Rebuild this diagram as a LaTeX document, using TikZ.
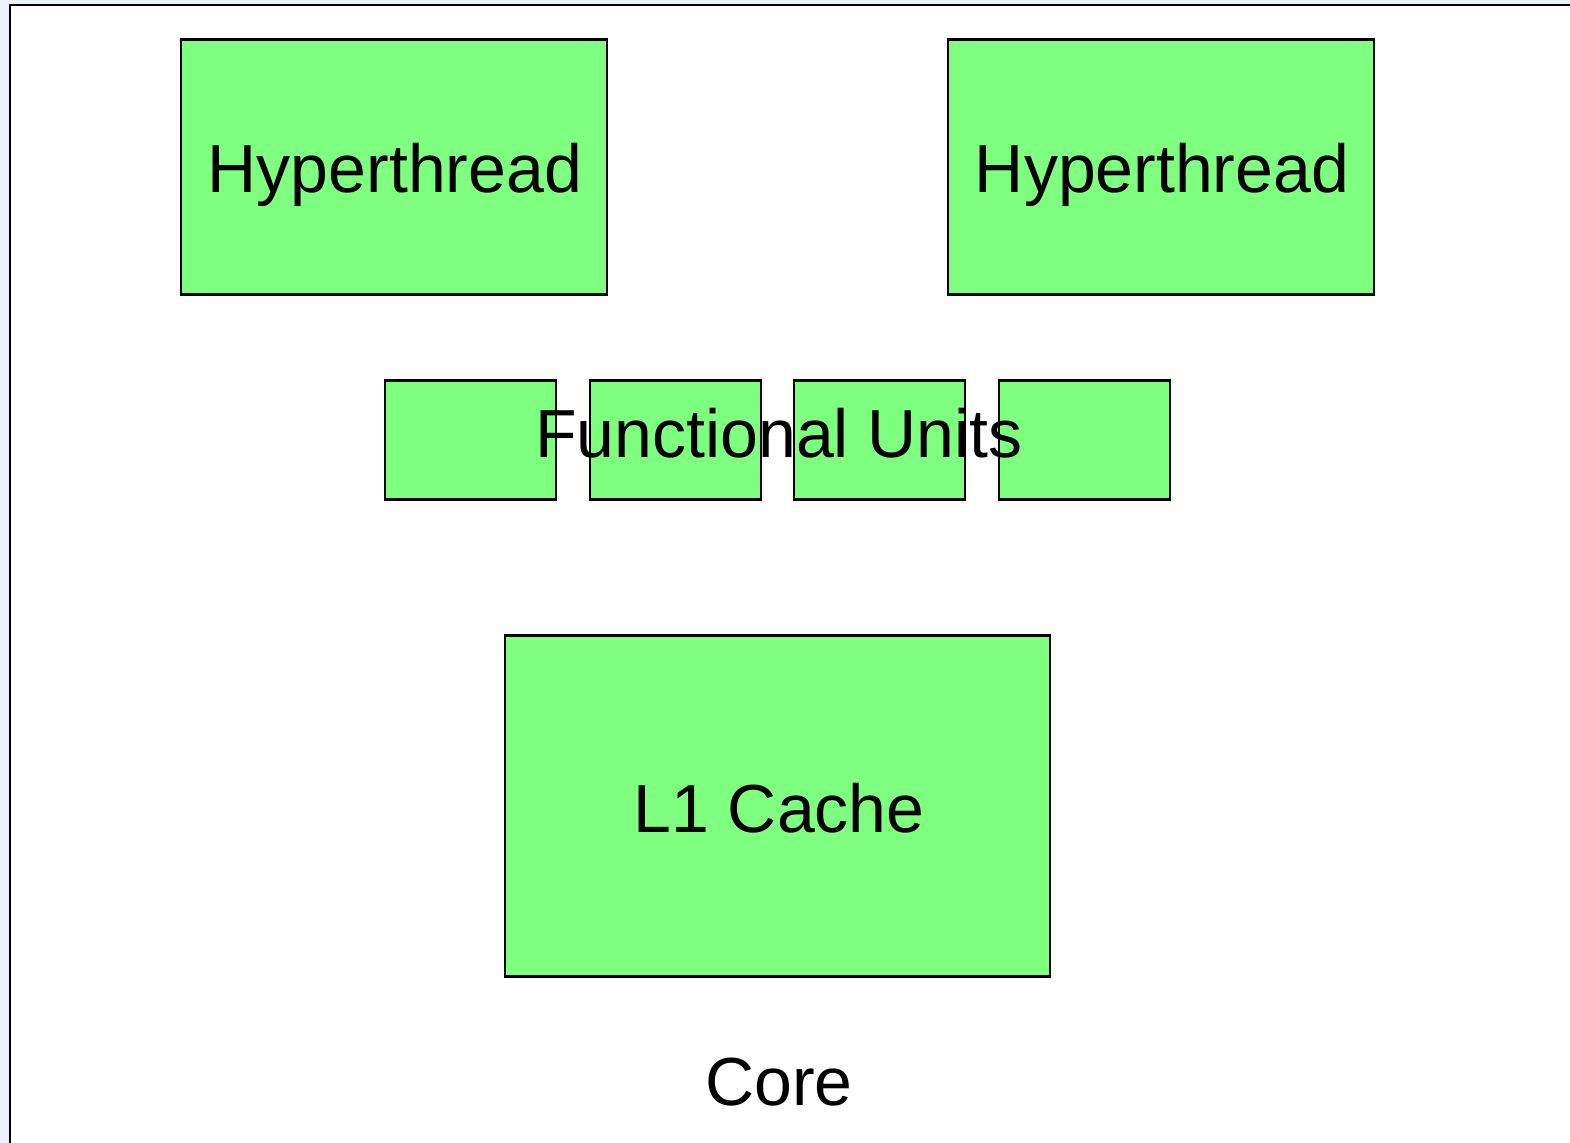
\documentclass[tikz,border=0pt]{standalone}
\usepackage{fontspec}
\setmainfont{Liberation Sans}
\definecolor{unitgreen}{HTML}{7FFF7F}
\definecolor{pageblue}{HTML}{ECF1FB}
\begin{document}
\begin{tikzpicture}[x=0.5pt,y=-0.5pt,
  block/.style={draw=black,line width=1.2pt,fill=unitgreen,inner sep=0pt},
  caption/.style={font=\fontsize{34pt}{40pt}\selectfont,anchor=base,inner sep=0pt}]
  % page background and core outline
  \fill[pageblue] (0,0) rectangle (1570,1143);
  \fill[white] (10,5) rectangle (1570,1143);
  \useasboundingbox (0,0) rectangle (1570,1143);
  \draw[line width=1.3pt] (10,1150) -- (10,5) -- (1580,5);
  % hyperthreads
  \node[block,minimum width=213pt,minimum height=127.5pt] (ht1) at (394,167) {};
  \node[block,minimum width=213pt,minimum height=127.5pt] (ht2) at (1161,167) {};
  \node[caption] (ht1t) at (395,193) {Hyperthread};
  \node[caption] (ht2t) at (1162,193) {Hyperthread};
  % functional units
  \foreach \cx/\nm in {470.5/fu1,675.5/fu2,879.5/fu3,1084.5/fu4}
    \node[block,minimum width=85.5pt,minimum height=59.5pt] (\nm) at (\cx,440) {};
  \node[caption] (fut) at (779,458) {Functional Units};
  % L1 cache
  \node[block,minimum width=272.5pt,minimum height=170.5pt] (l1) at (777.5,806) {};
  \node[caption] (l1t) at (779,833) {L1 Cache};
  % core label
  \node[caption] (core) at (779,1105) {Core};
\end{tikzpicture}
\end{document}
